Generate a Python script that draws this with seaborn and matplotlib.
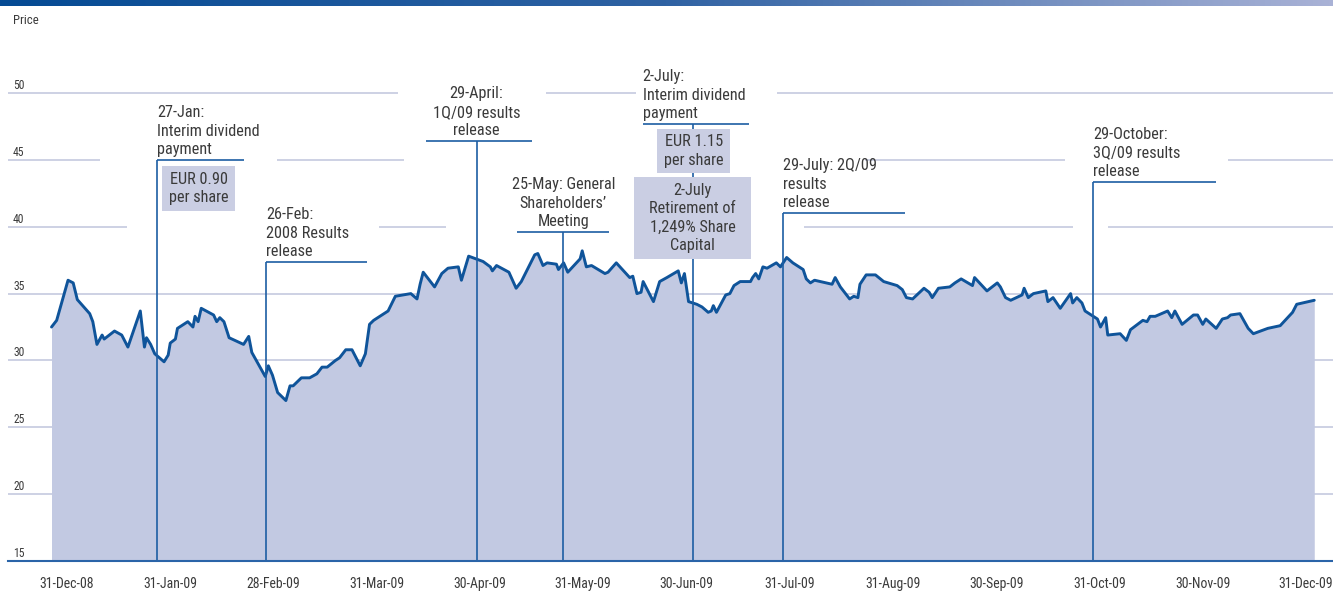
import os
import calendar
import numpy as np
import pandas as pd
import matplotlib
matplotlib.use("Agg")
import matplotlib.pyplot as plt
import seaborn as sns
from matplotlib import font_manager as fm
from matplotlib.textpath import TextPath
from matplotlib.patches import Rectangle
from matplotlib.colors import LinearSegmentedColormap
from matplotlib.transforms import ScaledTranslation

# ---------------- data ----------------
tick_labels = ["31-Dec-08", "31-Jan-09", "28-Feb-09", "31-Mar-09", "30-Apr-09",
               "31-May-09", "30-Jun-09", "31-Jul-09", "31-Aug-09", "30-Sep-09",
               "31-Oct-09", "30-Nov-09", "31-Dec-09"]
y_ticks = [15, 20, 25, 30, 35, 40, 45, 50]

# time in months after 31-Dec-08
months = [-0.15, -0.10, 0.01, 0.06, 0.10, 0.14, 0.22, 0.25, 0.29, 0.34,
          0.36, 0.46, 0.53, 0.59, 0.71, 0.75, 0.77, 0.81, 0.85, 0.94,
          0.98, 1.00, 1.05, 1.07, 1.17, 1.22, 1.24, 1.27, 1.30, 1.42,
          1.45, 1.48, 1.52, 1.57, 1.71, 1.76, 1.79, 1.92, 1.95, 1.99,
          2.04, 2.12, 2.16, 2.19, 2.27, 2.35, 2.42, 2.47, 2.52, 2.60,
          2.64, 2.70, 2.76, 2.84, 2.89, 2.93, 2.97, 3.11, 3.18, 3.33,
          3.39, 3.42, 3.45, 3.56, 3.63, 3.69, 3.79, 3.82, 3.89, 4.03,
          4.10, 4.12, 4.16, 4.28, 4.35, 4.40, 4.53, 4.56, 4.61, 4.65,
          4.74, 4.76, 4.81, 4.85, 4.97, 4.99, 5.03, 5.08, 5.21, 5.24,
          5.32, 5.45, 5.48, 5.52, 5.56, 5.58, 5.68, 5.74, 5.81, 5.92,
          5.95, 5.98, 6.02, 6.10, 6.15, 6.21, 6.24, 6.26, 6.29, 6.38,
          6.42, 6.46, 6.52, 6.62, 6.64, 6.67, 6.70, 6.74, 6.78, 6.87,
          6.91, 6.97, 7.03, 7.13, 7.16, 7.20, 7.24, 7.41, 7.44, 7.49,
          7.58, 7.62, 7.66, 7.68, 7.74, 7.83, 7.91, 8.04, 8.09, 8.13,
          8.19, 8.30, 8.35, 8.38, 8.44, 8.55, 8.60, 8.66, 8.77, 8.79,
          8.91, 9.01, 9.04, 9.09, 9.14, 9.25, 9.27, 9.31, 9.36, 9.48,
          9.50, 9.55, 9.62, 9.72, 9.74, 9.78, 9.83, 9.86, 9.98, 10.01,
          10.06, 10.08, 10.20, 10.26, 10.30, 10.42, 10.46, 10.49, 10.54, 10.66,
          10.70, 10.73, 10.80, 10.91, 10.95, 11.00, 11.03, 11.13, 11.19, 11.24,
          11.27, 11.36, 11.44, 11.49, 11.63, 11.75, 11.87, 11.91, 12.08]

price = [32.5, 33.0, 36.0, 35.8, 34.55, 34.2, 33.5, 32.9, 31.2, 31.9,
         31.6, 32.2, 31.9, 31.0, 33.7, 31.0, 31.7, 31.2, 30.5, 29.9,
         30.4, 31.3, 31.6, 32.4, 32.9, 32.5, 33.3, 32.9, 33.9, 33.4,
         32.9, 33.2, 32.9, 31.7, 31.2, 31.8, 30.6, 28.8, 29.6, 28.9,
         27.6, 27.0, 28.1, 28.1, 28.7, 28.7, 29.0, 29.5, 29.5, 30.0,
         30.2, 30.8, 30.8, 29.6, 30.5, 32.7, 33.0, 33.7, 34.8, 35.0,
         34.6, 35.7, 36.6, 35.5, 36.5, 36.9, 37.0, 36.0, 37.8, 37.4,
         37.0, 36.7, 37.1, 36.6, 35.4, 35.9, 37.9, 38.0, 37.1, 37.3,
         37.2, 36.8, 37.3, 36.6, 37.6, 38.2, 37.0, 37.1, 36.5, 36.6,
         37.3, 36.2, 36.3, 35.0, 35.1, 35.9, 34.4, 35.9, 36.2, 36.7,
         35.8, 36.5, 34.4, 34.2, 34.0, 33.6, 33.7, 34.1, 33.6, 34.9,
         35.0, 35.6, 35.9, 35.9, 36.2, 36.5, 36.1, 37.0, 36.9, 37.3,
         37.0, 37.7, 37.3, 36.8, 36.1, 35.8, 36.0, 35.7, 36.2, 35.5,
         34.6, 34.8, 34.7, 35.7, 36.4, 36.4, 35.9, 35.6, 35.3, 34.7,
         34.6, 35.4, 35.1, 34.7, 35.4, 35.5, 35.8, 36.1, 35.6, 36.2,
         35.2, 35.8, 35.5, 34.7, 34.5, 34.9, 35.4, 34.7, 35.0, 35.2,
         34.4, 34.7, 33.9, 35.0, 34.3, 34.7, 34.3, 33.7, 33.1, 32.5,
         33.2, 31.9, 32.0, 31.5, 32.3, 33.0, 32.9, 33.3, 33.3, 33.7,
         33.2, 33.7, 32.7, 33.4, 33.4, 32.7, 33.1, 32.4, 33.1, 33.2,
         33.4, 33.5, 32.4, 32.0, 32.4, 32.6, 33.6, 34.2, 34.5]

event_dates = ["2009-01-27", "2009-02-26", "2009-04-29", "2009-05-25",
               "2009-07-02", "2009-07-29", "2009-10-29"]
event_texts = ["27-Jan:\nInterim dividend\npayment",
               "26-Feb:\n2008 Results\nrelease",
               "29-April:\n1Q/09 results\nrelease",
               "25-May: General\nShareholders\u2019\nMeeting",
               "2-July:\nInterim dividend\npayment",
               "29-July: 2Q/09\nresults\nrelease",
               "29-October:\n3Q/09 results\nrelease"]
box_texts = ["EUR 0.90\nper share", "EUR 1.15\nper share",
             "2-July\nRetirement of\n1,249% Share\nCapital"]

# ---------------- layout / style ----------------
# (label level in price units, bracket start/end relative to event, text align)
event_layout = [(45.0, 0.0, 0.84, "left"),
                (37.36, 0.0, 0.98, "left"),
                (46.41, -0.49, 0.54, "center"),
                (39.61, -0.45, 0.44, "center"),
                (47.68, -0.49, 0.54, "left"),
                (41.03, 0.0, 1.18, "left"),
                (43.35, 0.0, 1.19, "left")]
# (event index, x0 rel, x1 rel, y bottom, y top)
box_layout = [(0, 0.05, 0.76, 41.18, 44.54),
              (4, -0.35, 0.36, 44.02, 47.31),
              (4, -0.57, 0.56, 37.59, 43.72)]
XL, XR = -0.5714, 12.2615
grid_segments = {50: [(XL, 3.21), (4.64, 5.51), (6.88, XR)],
                 45: [(XL, 0.32), (2.03, 3.26), (7.73, 9.67), (11.24, XR)],
                 40: [(XL, 0.58), (3.02, 3.67), (7.14, 9.74), (10.08, XR)],
                 35: [(XL, XR)], 30: [(XL, XR)], 25: [(XL, XR)], 20: [(XL, XR)]}

LINE = "#0f549a"
ANN = "#1d5ea3"
FILL = "#c2c9e2"
BOX = "#caceE3"
GRID = "#c9cee2"
TXT = "#3a3a3a"
DPI = 100
LS = 1.3


def month_pos(d):
    ts = pd.Timestamp(d)
    idx = (ts.year - 2009) * 12 + ts.month - 1
    return idx + ts.day / calendar.monthrange(ts.year, ts.month)[1]


sns.set_style("white")

# pick a narrow font if any is installed
font_path = None
files = [f.fname for f in fm.fontManager.ttflist]
prefs = ["LiberationSansNarrow-Regular", "RobotoCondensed-Regular",
         "NotoSans-Condensed.", "NotoSans-CondensedRegular",
         "DejaVuSansCondensed.", "OpenSans_Condensed-Regular"]
for p in prefs:
    for fn in files:
        if p in os.path.basename(fn):
            font_path = fn
            break
    if font_path:
        break
if font_path is None:
    bad = ("Bold", "Italic", "Light", "Thin", "Medium", "Black", "Semi",
           "Extra", "Oblique", "Heavy")
    for fn in files:
        b = os.path.basename(fn)
        if ("Narrow" in b or "Condensed" in b) and not any(x in b for x in bad):
            font_path = fn
            break
base_fp = fm.FontProperties(fname=font_path) if font_path else fm.FontProperties(family="DejaVu Sans")


def fitted(sample, px):
    w = TextPath((0, 0), sample, size=100, prop=base_fp).get_extents().width / 100.0
    fp = base_fp.copy()
    fp.set_size(px / w * 72.0 / DPI)
    return fp


fp_ann = fitted("Interim dividend", 101)
fp_tick = fitted("31-Dec-08", 53)
fp_y = fitted("50", 10)
fp_price = fitted("Price", 24)

fig = plt.figure(figsize=(13.33, 5.91), dpi=DPI)
ax = fig.add_axes([8 / 1333, 30 / 591, 1325 / 1333, 536 / 591])
ax.set_xlim(XL, XR)
ax.set_ylim(15, 55.09)

# gridlines
for yv, segs in grid_segments.items():
    for x0, x1 in segs:
        ax.hlines(yv, x0, x1, color=GRID, lw=1.3, zorder=1)

# area + line
df = pd.DataFrame({"month": months, "price": price})
ax.fill_between(df["month"], 15, df["price"], color=FILL, lw=0, zorder=2)
sns.lineplot(data=df, x="month", y="price", ax=ax, color=LINE, lw=2.1,
             sort=False, estimator=None, zorder=4)

# events
ex = [month_pos(d) for d in event_dates]
for x, txt, (lvl, d0, d1, ha) in zip(ex, event_texts, event_layout):
    ax.vlines(x, 15, lvl, color=ANN, lw=1.2, zorder=5)
    ax.hlines(lvl, x + d0, x + d1, color=ANN, lw=1.2, zorder=5)
    tx = x if ha == "center" else x + d0
    ax.annotate(txt, xy=(tx, lvl), xytext=(0, 2.0), textcoords="offset points",
                ha=ha, va="bottom", multialignment=ha, fontproperties=fp_ann,
                color=TXT, linespacing=LS, zorder=6)

for txt, (i, b0, b1, yb, yt) in zip(box_texts, box_layout):
    x = ex[i]
    ax.add_patch(Rectangle((x + b0, yb), b1 - b0, yt - yb, fc=BOX, ec="none", zorder=6))
    ax.text(x + (b0 + b1) / 2, (yb + yt) / 2, txt, ha="center", va="center",
            multialignment="center", fontproperties=fp_ann, color=TXT,
            linespacing=LS, zorder=7)

# axes styling
for s in ["left", "right", "top"]:
    ax.spines[s].set_visible(False)
ax.spines["bottom"].set_color("#2a64a8")
ax.spines["bottom"].set_linewidth(1.5)
ax.spines["bottom"].set_zorder(8)
ax.set_xticks(range(len(tick_labels)))
ax.set_xticklabels(tick_labels)
ax.tick_params(axis="x", length=4.5, width=1.3, color="#2a64a8", pad=7, labelcolor=TXT)
for lbl in ax.get_xticklabels():
    lbl.set_fontproperties(fp_tick)
ax.set_yticks(y_ticks)
ax.set_yticklabels([str(v) for v in y_ticks])
ax.tick_params(axis="y", length=0, pad=0, labelcolor=TXT)
off = ScaledTranslation(5 / DPI, 9 / DPI, fig.dpi_scale_trans)
for lbl in ax.get_yticklabels():
    lbl.set_fontproperties(fp_y)
    lbl.set_ha("left")
    lbl.set_transform(lbl.get_transform() + off)
ax.set_xlabel("")
ax.set_ylabel("")
ax.grid(False)

fig.text(13 / 1333, 1 - 20 / 591, "Price", ha="left", va="center",
         fontproperties=fp_price, color=TXT)

# top gradient band
bar = fig.add_axes([0, 1 - 6 / 591, 1, 6 / 591])
cmap = LinearSegmentedColormap.from_list("band", ["#054b94", "#2f62a3", "#a9b2d6"])
bar.imshow(np.linspace(0, 1, 512)[None, :], aspect="auto", cmap=cmap)
bar.axis("off")

fig.savefig("out.png", dpi=DPI)
